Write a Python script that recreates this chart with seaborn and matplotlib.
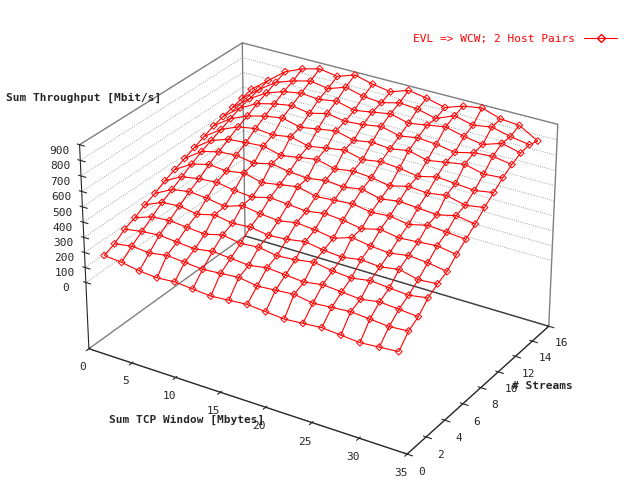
import numpy as np
import matplotlib
matplotlib.use('Agg')
import matplotlib.pyplot as plt
import seaborn as sns
from matplotlib.lines import Line2D

sns.set_style('white')
plt.rcParams['font.family'] = 'DejaVu Sans Mono'

# Sum TCP window (Mbytes) and number of streams
window = [1, 3, 5, 7, 9, 11, 13, 15, 17, 19, 21, 23, 25, 27, 29, 31, 33]
streams = list(range(1, 17))

# throughput rows, one per stream count (Mbit/s)
tput = [
    [150, 140, 120, 110, 120, 110, 100, 110, 120, 110, 100, 110, 120, 110, 100, 110, 120],
    [180, 200, 190, 210, 200, 190, 200, 210, 190, 200, 210, 190, 200, 210, 200, 190, 200],
    [230, 250, 260, 250, 240, 260, 250, 240, 260, 250, 240, 260, 250, 240, 260, 250, 240],
    [260, 300, 310, 300, 290, 320, 300, 310, 290, 300, 320, 300, 290, 310, 300, 290, 310],
    [300, 350, 360, 340, 370, 350, 360, 340, 350, 370, 350, 340, 360, 350, 370, 340, 350],
    [330, 390, 410, 400, 380, 420, 400, 390, 410, 400, 380, 420, 400, 390, 410, 400, 380],
    [370, 430, 450, 460, 440, 430, 460, 450, 440, 460, 450, 430, 460, 440, 450, 460, 440],
    [400, 470, 500, 490, 510, 480, 500, 520, 490, 500, 510, 490, 500, 480, 510, 500, 490],
    [430, 510, 540, 550, 530, 560, 540, 530, 550, 540, 560, 530, 550, 540, 530, 560, 540],
    [460, 540, 580, 590, 600, 570, 590, 610, 580, 600, 590, 570, 600, 590, 610, 580, 600],
    [490, 570, 620, 640, 630, 650, 620, 640, 660, 630, 650, 640, 620, 650, 640, 630, 650],
    [520, 600, 650, 680, 700, 670, 690, 710, 680, 700, 690, 710, 680, 700, 720, 690, 700],
    [540, 630, 690, 720, 740, 720, 750, 730, 740, 760, 730, 750, 740, 720, 750, 760, 740],
    [560, 650, 720, 760, 780, 770, 790, 760, 780, 800, 770, 790, 810, 780, 760, 800, 770],
    [580, 670, 750, 790, 820, 800, 840, 810, 800, 830, 820, 790, 840, 810, 830, 800, 780],
    [600, 690, 780, 830, 860, 840, 880, 850, 830, 870, 850, 820, 860, 880, 840, 830, 760],
]

X, Y = np.meshgrid(window, streams)
Z = np.array(tput, dtype=float)

fig = plt.figure(figsize=(6.4, 4.8), dpi=100)
ax = fig.add_axes([-0.02, -0.04, 1.02, 1.06], projection='3d')
ax.plot_wireframe(X, Y, Z, color='red', linewidth=0.8)
ax.scatter(X.ravel(), Y.ravel(), Z.ravel(), marker='D', s=12, facecolors='none',
           edgecolors='red', linewidths=0.7, depthshade=False)

ax.set_xlim(0, 35)
ax.set_ylim(0, 16)
ax.set_zlim(-450, 900)
ax.set_box_aspect((1.3, 1, 0.8))
ax.set_xticks(range(0, 36, 5))
ax.set_yticks(range(0, 17, 2))
ax.set_zticks(range(0, 901, 100))
ax.tick_params(labelsize=8, pad=0)
for a in (ax.xaxis, ax.yaxis, ax.zaxis):
    a.pane.fill = False
    a.pane.set_edgecolor('black')
    a._axinfo['grid'].update(color='#888888', linestyle=':', linewidth=0.6)
ax.xaxis._axinfo['grid']['linewidth'] = 0
ax.yaxis._axinfo['grid']['linewidth'] = 0
# put the z ticks on the left side like gnuplot
ax.zaxis._axinfo['juggled'] = (1, 2, 0)
ax.view_init(elev=28, azim=-58)

fig.text(0.01, 0.79, 'Sum Throughput [Mbit/s]', fontsize=8, weight='bold')
fig.text(0.17, 0.12, 'Sum TCP Window [Mbytes]', fontsize=8, weight='bold')
fig.text(0.80, 0.19, '# Streams', fontsize=8, weight='bold')

handle = Line2D([], [], color='red', marker='D', markerfacecolor='none', markersize=4, linewidth=0.8)
fig.legend([handle], ['EVL => WCW; 2 Host Pairs'], loc='upper right', bbox_to_anchor=(0.98, 0.95),
           frameon=False, fontsize=8, markerfirst=False, labelcolor='red', handlelength=3)

fig.savefig('out.png', dpi=100)
